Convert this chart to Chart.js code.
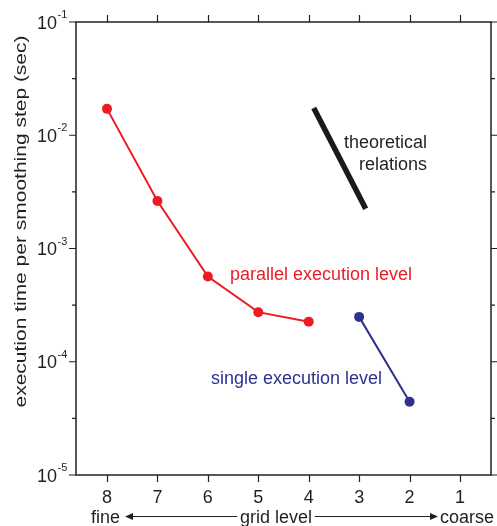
<!DOCTYPE html>
<html>
<head>
<meta charset="utf-8">
<script src="https://cdn.jsdelivr.net/npm/chart.js@4"></script>
<style>
  html, body { margin: 0; padding: 0; background: #fff; }
  canvas { display: block; }
</style>
</head>
<body>
<canvas id="c" width="497" height="526"></canvas>
<script>
// ---- data ----
const gridLevels = [8, 7, 6, 5, 4, 3, 2, 1];
const parallelLevels = [8, 7, 6, 5, 4];
const parallelTimes = [0.0171, 0.00263, 0.000565, 0.000274, 0.000226];
const singleLevels = [3, 2];
const singleTimes = [0.000249, 0.0000443];
const theoryLevels = [3.9, 2.87];
const theoryTimes = [0.0174, 0.00224];
const yTickExponents = [-1, -2, -3, -4, -5];
const yTitle = 'execution time per smoothing step (sec)';
const xTitle = 'grid level';
const xLeftLabel = 'fine';
const xRightLabel = 'coarse';
const parallelLabel = 'parallel execution level';
const singleLabel = 'single execution level';
const theoryLabel = ['theoretical', 'relations'];

const RED = '#ed1c24';
const BLUE = '#2e3192';
const INK = '#231f20';
const FONT = '"Liberation Sans", Arial, Helvetica, sans-serif';

const pts = (xs, ys) => xs.map((x, i) => ({ x, y: ys[i] }));

const framePlugin = {
  id: 'frame',
  afterDraw(chart) {
    const { ctx, chartArea: a, scales } = chart;
    const xs = scales.x, ys = scales.y;
    ctx.save();
    ctx.strokeStyle = INK;
    ctx.lineWidth = 1.5;
    ctx.strokeRect(a.left, a.top, a.right - a.left, a.bottom - a.top);
    ctx.lineWidth = 1.2;
    ctx.beginPath();
    // x ticks top & bottom
    gridLevels.forEach(g => {
      const px = Math.round(xs.getPixelForValue(g)) + 0.5;
      ctx.moveTo(px, a.bottom); ctx.lineTo(px, a.bottom + 7);
      ctx.moveTo(px, a.top); ctx.lineTo(px, a.top - 7);
    });
    // y ticks major & half-decade minor
    yTickExponents.forEach(e => {
      const py = ys.getPixelForValue(Math.pow(10, e));
      ctx.moveTo(a.left, py); ctx.lineTo(a.left - 7, py);
      ctx.moveTo(a.right, py); ctx.lineTo(a.right + 7, py);
      if (e > -5) {
        const pm = ys.getPixelForValue(Math.pow(10, e - 0.5));
        ctx.moveTo(a.left, pm); ctx.lineTo(a.left - 4, pm);
        ctx.moveTo(a.right, pm); ctx.lineTo(a.right + 4, pm);
      }
    });
    ctx.stroke();

    // x tick labels
    ctx.fillStyle = INK;
    ctx.font = '18px ' + FONT;
    ctx.textAlign = 'center';
    ctx.textBaseline = 'alphabetic';
    gridLevels.forEach(g => {
      ctx.fillText(String(g), xs.getPixelForValue(g), 503);
    });

    // y tick labels 10^e
    yTickExponents.forEach(e => {
      const py = ys.getPixelForValue(Math.pow(10, e));
      ctx.font = '18px ' + FONT;
      ctx.textAlign = 'right';
      ctx.textBaseline = 'alphabetic';
      ctx.fillText('10', 57, py + 6.5);
      ctx.font = '11px ' + FONT;
      ctx.textAlign = 'left';
      ctx.fillText(String(e), 57.5, py - 4);
    });

    // bottom title with arrows
    ctx.font = '18px ' + FONT;
    ctx.textBaseline = 'alphabetic';
    ctx.textAlign = 'left';
    ctx.fillText(xLeftLabel, 91, 523);
    ctx.textAlign = 'center';
    ctx.fillText(xTitle, 276, 523);
    ctx.textAlign = 'right';
    ctx.fillText(xRightLabel, 494, 523);
    const ay = 516.5;
    ctx.lineWidth = 1.2;
    ctx.beginPath();
    ctx.moveTo(131, ay); ctx.lineTo(237, ay);
    ctx.moveTo(315, ay); ctx.lineTo(432, ay);
    ctx.stroke();
    ctx.beginPath();
    ctx.moveTo(125, ay); ctx.lineTo(133, ay - 3.5); ctx.lineTo(133, ay + 3.5); ctx.closePath();
    ctx.moveTo(438, ay); ctx.lineTo(430, ay - 3.5); ctx.lineTo(430, ay + 3.5); ctx.closePath();
    ctx.fill();

    // y title (rotated, stretched along its length)
    ctx.save();
    ctx.translate(21, 221.5);
    ctx.rotate(-Math.PI / 2);
    ctx.font = '17px ' + FONT;
    const w = ctx.measureText(yTitle).width;
    ctx.scale(372 / w, 1);
    ctx.textAlign = 'center';
    ctx.textBaseline = 'middle';
    ctx.fillText(yTitle, 0, 0);
    ctx.restore();

    // annotations
    ctx.font = '18px ' + FONT;
    ctx.textBaseline = 'alphabetic';
    ctx.textAlign = 'left';
    ctx.fillStyle = RED;
    ctx.fillText(parallelLabel, 230, 280);
    ctx.fillStyle = BLUE;
    ctx.fillText(singleLabel, 211, 384);
    ctx.fillStyle = INK;
    ctx.textAlign = 'right';
    ctx.fillText(theoryLabel[0], 427, 148);
    ctx.fillText(theoryLabel[1], 427, 170);
    ctx.restore();
  }
};

new Chart(document.getElementById('c'), {
  type: 'scatter',
  data: {
    datasets: [
      {
        data: pts(theoryLevels, theoryTimes),
        showLine: true,
        borderColor: '#1a1a1a',
        borderWidth: 5.5,
        pointRadius: 0,
        borderCapStyle: 'butt'
      },
      {
        data: pts(parallelLevels, parallelTimes),
        showLine: true,
        borderColor: RED,
        backgroundColor: RED,
        borderWidth: 2,
        pointRadius: 5,
        pointBorderWidth: 0,
        pointBackgroundColor: RED
      },
      {
        data: pts(singleLevels, singleTimes),
        showLine: true,
        borderColor: BLUE,
        backgroundColor: BLUE,
        borderWidth: 2,
        pointRadius: 5,
        pointBorderWidth: 0,
        pointBackgroundColor: BLUE
      }
    ]
  },
  options: {
    responsive: false,
    animation: false,
    devicePixelRatio: 1,
    layout: { padding: { left: 76, right: 6, top: 22, bottom: 51 } },
    plugins: { legend: { display: false }, tooltip: { enabled: false } },
    scales: {
      x: { type: 'linear', reverse: true, min: 0.385, max: 8.615, display: false },
      y: { type: 'logarithmic', min: 1e-5, max: 1e-1, display: false }
    }
  },
  plugins: [framePlugin]
});
</script>
</body>
</html>
